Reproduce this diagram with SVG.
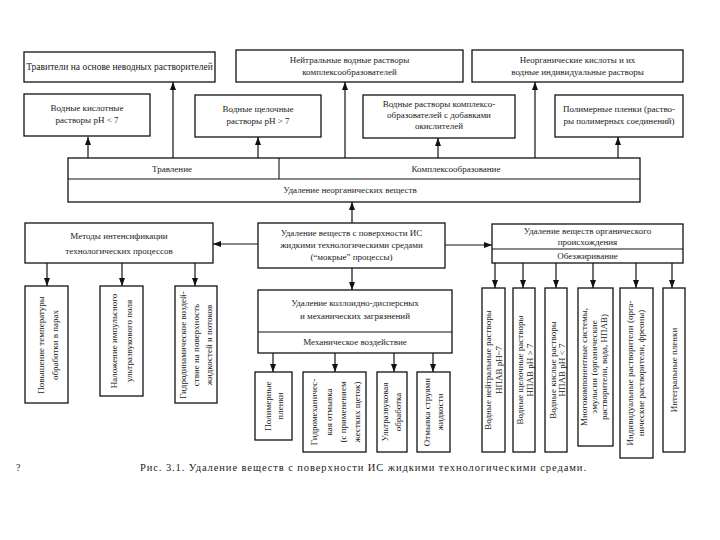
<svg xmlns="http://www.w3.org/2000/svg" width="720" height="540" viewBox="0 0 720 540">
<defs>
<marker id="ah" markerUnits="userSpaceOnUse" markerWidth="8" markerHeight="6" refX="8" refY="3" orient="auto">
<path d="M0,0 L8,3 L0,6 z" fill="#111"/>
</marker>
<style>
rect{fill:#fff;stroke:#111;stroke-width:1.3}
.sep{stroke:#111;stroke-width:1.1;fill:none}
text{font-family:"Liberation Serif","DejaVu Serif",serif;font-size:9px;fill:#1a1a1a}
.c{text-anchor:middle}
.conn line{stroke:#111;stroke-width:1.2;marker-end:url(#ah)}
</style>
</defs>
<rect x="0" y="0" width="720" height="540" style="fill:#fff;stroke:none"/>

<g id="t1"><rect x="24" y="52" width="191" height="30"/><text class="c" x="119.5" y="70" style="font-size:9.5px">Травители на основе неводных растворителей</text></g>
<g id="t2"><rect x="236" y="50" width="227" height="32"/><text class="c" x="349.5" y="63">Нейтральные водные растворы</text><text class="c" x="349.5" y="75">комплексообразователей</text></g>
<g id="t3"><rect x="472" y="50" width="211" height="32"/><text class="c" x="577.5" y="63">Неорганические кислоты и их</text><text class="c" x="577.5" y="75">водные индивидуальные растворы</text></g>

<g id="s1"><rect x="24" y="94" width="126" height="42"/><text class="c" x="87" y="111">Водные кислотные</text><text class="c" x="87" y="123">растворы pH &lt; 7</text></g>
<g id="s2"><rect x="195" y="95" width="126" height="42"/><text class="c" x="258" y="112">Водные щелочные</text><text class="c" x="258" y="124">растворы pH &gt; 7</text></g>
<g id="s3"><rect x="363" y="95" width="152" height="43"/><text class="c" x="439" y="107">Водные растворы комплексо-</text><text class="c" x="439" y="118">образователей с добавками</text><text class="c" x="439" y="129">окислителей</text></g>
<g id="s4"><rect x="555" y="95" width="128" height="42"/><text class="c" x="619" y="112">Полимерные пленки (раство-</text><text class="c" x="619" y="124">ры полимерных соединений)</text></g>

<g id="mid"><rect x="68" y="158" width="572" height="44"/><line class="sep" x1="68" y1="179" x2="640" y2="179"/><line class="sep" x1="279" y1="158" x2="279" y2="179"/>
<text class="c" x="172" y="172">Травление</text><text class="c" x="456" y="172">Комплексообразование</text><text class="c" x="350" y="193">Удаление неорганических веществ</text></g>

<g id="center"><rect x="258" y="223" width="187" height="45"/><text class="c" x="351.5" y="236">Удаление веществ с поверхности ИС</text><text class="c" x="351.5" y="248">жидкими технологическими средами</text><text class="c" x="351.5" y="260">(“мокрые” процессы)</text></g>

<g id="intens"><rect x="25" y="223" width="188" height="40"/><text class="c" x="119" y="239">Методы интенсификации</text><text class="c" x="119" y="254">технологических процессов</text></g>

<g id="organic"><rect x="492" y="224" width="191" height="39"/><line class="sep" x1="492" y1="249" x2="683" y2="249"/><text class="c" x="587.5" y="234">Удаление веществ органического</text><text class="c" x="587.5" y="245">происхождения</text><text class="c" x="587.5" y="259">Обезжиривание</text></g>

<g id="colloid"><rect x="258" y="290" width="194" height="63"/><line class="sep" x1="258" y1="332" x2="452" y2="332"/><text class="c" x="355" y="306">Удаление коллоидно-дисперсных</text><text class="c" x="355" y="319">и механических   загрязнений</text><text class="c" x="355" y="345">Механическое воздействие</text></g>

<g id="vA"><rect x="25" y="286" width="43" height="117"/><text class="c" transform="translate(43.5,345) rotate(-90)">Повышение температуры</text><text class="c" transform="translate(57.5,345) rotate(-90)">обработки в парах</text></g>
<g id="vB"><rect x="100" y="286" width="43" height="110"/><text class="c" transform="translate(117,341) rotate(-90)">Наложение импульсного</text><text class="c" transform="translate(132,341) rotate(-90)">ультразвукового поля</text></g>
<g id="vC"><rect x="175" y="286" width="42" height="117"/><text class="c" transform="translate(186,345) rotate(-90)">Гидродинамическое воздей-</text><text class="c" transform="translate(199,345) rotate(-90)">ствие на поверхность</text><text class="c" transform="translate(212,345) rotate(-90)">жидкостей и потоков</text></g>

<g id="c1"><rect x="255" y="372" width="37" height="68"/><text class="c" transform="translate(271,406) rotate(-90)">Полимерные</text><text class="c" transform="translate(283,406) rotate(-90)">пленки</text></g>
<g id="c2"><rect x="303" y="372" width="63" height="80"/><text class="c" transform="translate(317,412) rotate(-90)">Гидромеханичес-</text><text class="c" transform="translate(332,412) rotate(-90)">кая отмывка</text><text class="c" transform="translate(346,412) rotate(-90)">(с применением</text><text class="c" transform="translate(360,412) rotate(-90)">жестких щеток)</text></g>
<g id="c3"><rect x="377" y="372" width="30" height="80"/><text class="c" transform="translate(388,412) rotate(-90)">Ультразвуковая</text><text class="c" transform="translate(401,412) rotate(-90)">обработка</text></g>
<g id="c4"><rect x="417" y="372" width="33" height="80"/><text class="c" transform="translate(430,412) rotate(-90)">Отмывка струями</text><text class="c" transform="translate(443,412) rotate(-90)">жидкости</text></g>

<g id="b1"><rect x="482" y="288" width="23" height="164"/><text class="c" transform="translate(491,370) rotate(-90)">Водные нейтральные растворы</text><text class="c" transform="translate(502,370) rotate(-90)">НПАВ pH~7</text></g>
<g id="b2"><rect x="513" y="288" width="22" height="164"/><text class="c" transform="translate(523,370) rotate(-90)">Водные щелочные растворы</text><text class="c" transform="translate(533,370) rotate(-90)">НПАВ pH &gt; 7</text></g>
<g id="b3"><rect x="545" y="288" width="22" height="164"/><text class="c" transform="translate(555.5,370) rotate(-90)">Водные кислые растворы</text><text class="c" transform="translate(565,370) rotate(-90)">НПАВ pH &lt; 7</text></g>
<g id="b4"><rect x="578" y="288" width="35" height="158"/><text class="c" transform="translate(587,367) rotate(-90)">Многокомпонентные системы,</text><text class="c" transform="translate(597,367) rotate(-90)">эмульсии (органические</text><text class="c" transform="translate(607,367) rotate(-90)">растворители, вода, НПАВ)</text></g>
<g id="b5"><rect x="620" y="288" width="33" height="170"/><text class="c" transform="translate(633,373) rotate(-90)">Индивидуальные растворители (орга-</text><text class="c" transform="translate(644,373) rotate(-90)">нические растворители, фреоны)</text></g>
<g id="b6"><rect x="663" y="288" width="22" height="164"/><text class="c" transform="translate(677,370) rotate(-90)">Интегральные пленки</text></g>

<g class="conn">
<line x1="88" y1="158" x2="88" y2="137"/>
<line x1="173" y1="158" x2="173" y2="82"/>
<line x1="258" y1="158" x2="258" y2="137"/>
<line x1="345" y1="158" x2="345" y2="82"/>
<line x1="438" y1="158" x2="438" y2="138"/>
<line x1="535" y1="158" x2="535" y2="82"/>
<line x1="618" y1="158" x2="618" y2="137"/>
<line x1="352" y1="223" x2="352" y2="202"/>
<line x1="258" y1="244" x2="213" y2="244"/>
<line x1="445" y1="245" x2="492" y2="245"/>
<line x1="352" y1="268" x2="352" y2="290"/>
<line x1="47" y1="263" x2="47" y2="286"/>
<line x1="122" y1="263" x2="122" y2="286"/>
<line x1="195" y1="263" x2="195" y2="286"/>
<line x1="273" y1="353" x2="273" y2="372"/>
<line x1="335" y1="353" x2="335" y2="372"/>
<line x1="394" y1="353" x2="394" y2="372"/>
<line x1="433" y1="353" x2="433" y2="372"/>
<line x1="495" y1="263" x2="495" y2="288"/>
<line x1="523" y1="263" x2="523" y2="288"/>
<line x1="556" y1="263" x2="556" y2="288"/>
<line x1="593" y1="263" x2="593" y2="288"/>
<line x1="636" y1="263" x2="636" y2="288"/>
<line x1="672" y1="263" x2="672" y2="288"/>
</g>

<text x="16" y="471" style="font-size:10px">?</text>
<text x="140" y="471" textLength="446" style="font-size:10.5px">Рис. 3.1. Удаление веществ с поверхности ИС жидкими технологическими средами.</text>
</svg>
